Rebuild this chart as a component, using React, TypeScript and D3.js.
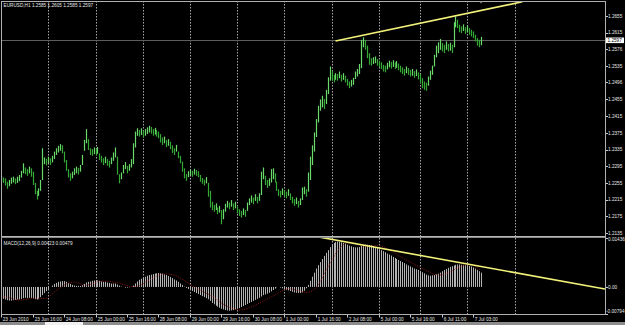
import React from "react";
import * as d3 from "d3";

// ---------- data ----------
const highs = [
  1.2272, 1.2268, 1.2266, 1.2258, 1.2262, 1.2268, 1.227, 1.2266, 1.227, 1.2274,
  1.2284, 1.2302, 1.2292, 1.2288, 1.2294, 1.229, 1.2282, 1.2255, 1.2236, 1.2242,
  1.2262, 1.2338, 1.2316, 1.2313, 1.2318, 1.2314, 1.232, 1.233, 1.2338, 1.2344,
  1.2348, 1.2345, 1.233, 1.231, 1.2288, 1.2278, 1.2282, 1.229, 1.2294, 1.2291,
  1.2298, 1.2322, 1.2358, 1.2384, 1.236, 1.2338, 1.2336, 1.234, 1.2337, 1.2341,
  1.2326, 1.232, 1.2314, 1.2318, 1.2312, 1.2308, 1.2316, 1.2328, 1.234, 1.2318,
  1.2276, 1.228, 1.2298, 1.2305, 1.2296, 1.23, 1.2312, 1.235, 1.2378, 1.2386,
  1.2382, 1.2386, 1.238, 1.2384, 1.2388, 1.2392, 1.2389, 1.2384, 1.2387, 1.2382,
  1.2378, 1.2372, 1.2364, 1.2366, 1.2358, 1.236, 1.2354, 1.2345, 1.2338, 1.2346,
  1.233, 1.232, 1.2306, 1.229, 1.2276, 1.2283, 1.2287, 1.2284, 1.2289, 1.2286,
  1.2283, 1.2274, 1.2267, 1.2263, 1.2269, 1.2255, 1.2236, 1.221, 1.2202, 1.2206,
  1.2196, 1.22, 1.219, 1.2192, 1.2205, 1.2212, 1.2208, 1.2214, 1.2206, 1.221,
  1.2198, 1.2192, 1.2188, 1.2194, 1.219, 1.2208, 1.2218, 1.2225, 1.222, 1.2228,
  1.2222, 1.223, 1.2282, 1.2292, 1.2272, 1.2262, 1.2266, 1.2288, 1.229, 1.2278,
  1.2258, 1.224, 1.2236, 1.2242, 1.2238, 1.2234, 1.224, 1.223, 1.2222, 1.2216,
  1.222, 1.2212, 1.2218, 1.2244, 1.2246, 1.224, 1.228, 1.2318, 1.2345, 1.2376,
  1.2408, 1.244, 1.2455, 1.2464, 1.2456, 1.2478, 1.2508, 1.2534, 1.2524, 1.2514,
  1.2518, 1.2516, 1.2522, 1.2514, 1.2518, 1.2512, 1.2504, 1.2498, 1.2502, 1.2507,
  1.2522, 1.2528, 1.254, 1.2598, 1.2604, 1.2598, 1.2584, 1.2566, 1.2554, 1.2556,
  1.2558, 1.2552, 1.2548, 1.2544, 1.2538, 1.2536, 1.2543, 1.2548, 1.2545, 1.2549,
  1.2544, 1.2547, 1.2541, 1.2536, 1.2532, 1.2528, 1.2534, 1.253, 1.2526, 1.2528,
  1.2523, 1.2527, 1.252, 1.2516, 1.2506, 1.2498, 1.2495, 1.251, 1.2524, 1.2536,
  1.2562, 1.2584, 1.2592, 1.26, 1.259, 1.2586, 1.2594, 1.2588, 1.2591, 1.2586,
  1.264, 1.2654, 1.2646, 1.2634, 1.263, 1.2635, 1.2628, 1.2632, 1.2626, 1.2622,
  1.2618, 1.261, 1.2602, 1.2598, 1.2605,
];
const lows = [
  1.2258, 1.2255, 1.2249, 1.2241, 1.2247, 1.2253, 1.2256, 1.2252, 1.2255, 1.2259,
  1.2268, 1.2278, 1.2276, 1.2272, 1.2278, 1.227, 1.225, 1.2228, 1.2215, 1.2224,
  1.2236, 1.2262, 1.23, 1.2297, 1.2302, 1.2298, 1.2304, 1.2312, 1.2322, 1.2328,
  1.2332, 1.2326, 1.2304, 1.2284, 1.2268, 1.226, 1.2266, 1.2274, 1.2278, 1.2275,
  1.2282, 1.2298, 1.2332, 1.235, 1.2334, 1.2322, 1.232, 1.2324, 1.2321, 1.2325,
  1.231, 1.2304, 1.2298, 1.2302, 1.2296, 1.2292, 1.23, 1.2308, 1.2316, 1.2275,
  1.2254, 1.2264, 1.2278, 1.2288, 1.2278, 1.2284, 1.2292, 1.23, 1.234, 1.2368,
  1.2366, 1.237, 1.2364, 1.2368, 1.2372, 1.2376, 1.2373, 1.2368, 1.2371, 1.2366,
  1.2362, 1.2352, 1.2346, 1.235, 1.2341, 1.2344, 1.2336, 1.2327, 1.2322, 1.233,
  1.2314, 1.2302, 1.2282, 1.2266, 1.226, 1.2269, 1.2273, 1.227, 1.2275, 1.2272,
  1.2269, 1.2258, 1.2253, 1.2249, 1.2254, 1.2222, 1.2196, 1.219, 1.2186, 1.219,
  1.218, 1.2184, 1.2156, 1.2168, 1.2186, 1.2196, 1.2192, 1.2198, 1.219, 1.2194,
  1.2182, 1.2176, 1.2172, 1.2178, 1.2174, 1.2188, 1.2202, 1.2208, 1.2204, 1.2212,
  1.2206, 1.2212, 1.2226, 1.2264, 1.225, 1.2243, 1.2248, 1.2256, 1.2264, 1.2256,
  1.2236, 1.2224, 1.222, 1.2226, 1.2222, 1.2218, 1.2224, 1.2214, 1.2206, 1.22,
  1.2204, 1.2196, 1.2202, 1.2214, 1.2228, 1.2222, 1.2234, 1.2262, 1.2298, 1.233,
  1.2365, 1.24, 1.2428, 1.2436, 1.2432, 1.2444, 1.2468, 1.25, 1.25, 1.2496,
  1.2502, 1.25, 1.2506, 1.2498, 1.2502, 1.2496, 1.2488, 1.2482, 1.2486, 1.249,
  1.2504, 1.251, 1.2516, 1.253, 1.258, 1.2574, 1.2554, 1.2538, 1.2536, 1.254,
  1.2542, 1.2536, 1.2532, 1.2528, 1.2522, 1.252, 1.2527, 1.2532, 1.2529, 1.2533,
  1.2528, 1.2531, 1.2525, 1.252, 1.2516, 1.2512, 1.2518, 1.2514, 1.251, 1.2512,
  1.2507, 1.2511, 1.2503, 1.2494, 1.2482, 1.2478, 1.2476, 1.2488, 1.2502, 1.2514,
  1.2534, 1.2556, 1.2566, 1.2574, 1.257, 1.2566, 1.2574, 1.257, 1.2572, 1.2566,
  1.258, 1.2628, 1.2626, 1.2616, 1.2614, 1.2619, 1.2612, 1.2616, 1.261, 1.2606,
  1.2602, 1.2594, 1.2584, 1.258, 1.2585,
];
const macd = [
  -0.0032, -0.0035, -0.0037, -0.0039, -0.004, -0.004, -0.0039, -0.0038, -0.0037, -0.0037,
  -0.0035, -0.0033, -0.0032, -0.0033, -0.0032, -0.0032, -0.0034, -0.0036, -0.0037, -0.0036,
  -0.003, -0.0024, -0.0018, -0.0012, -0.0006, 0.0, 0.0004, 0.0009, 0.0012, 0.0015,
  0.0016, 0.0017, 0.0017, 0.0015, 0.0012, 0.0009, 0.0006, 0.0004, 0.0003, 0.0003,
  0.0003, 0.0005, 0.0009, 0.0013, 0.0015, 0.0016, 0.0018, 0.0019, 0.002, 0.0019,
  0.0018, 0.0016, 0.0015, 0.0015, 0.0013, 0.0012, 0.001, 0.001, 0.001, 0.0007,
  0.0004, 0.0001, 0.0, -0.0002, -0.0002, -0.0001, 0.0, 0.0004, 0.001, 0.0016,
  0.0021, 0.0024, 0.0027, 0.003, 0.0033, 0.0035, 0.0036, 0.0038, 0.0039, 0.004,
  0.0041, 0.004, 0.0039, 0.0037, 0.0035, 0.0032, 0.0029, 0.0026, 0.0022, 0.0019,
  0.0015, 0.001, 0.0006, 0.0001, -0.0003, -0.0006, -0.0009, -0.0012, -0.0015, -0.0018,
  -0.0021, -0.0024, -0.0027, -0.003, -0.0033, -0.0036, -0.0041, -0.0047, -0.0051, -0.0055,
  -0.0058, -0.0061, -0.0064, -0.0066, -0.0068, -0.0069, -0.007, -0.0069, -0.0068, -0.0066,
  -0.0064, -0.0062, -0.0059, -0.0056, -0.0053, -0.005, -0.0047, -0.0044, -0.0041, -0.0038,
  -0.0035, -0.0032, -0.0028, -0.0024, -0.0022, -0.002, -0.0017, -0.0013, -0.0009, -0.0005,
  -0.0001, 0.0, -0.0002, -0.0004, -0.0006, -0.0008, -0.001, -0.0012, -0.0014, -0.0016,
  -0.0017, -0.0018, -0.0018, -0.0016, -0.0011, -0.0004, 0.0006, 0.0018, 0.003, 0.0042,
  0.0054, 0.0064, 0.0073, 0.0082, 0.0091, 0.01, 0.0108, 0.0117, 0.0123, 0.0129,
  0.0132, 0.0133, 0.0132, 0.0131, 0.0129, 0.0127, 0.0124, 0.0121, 0.0119, 0.0117,
  0.0116, 0.0116, 0.0117, 0.012, 0.0123, 0.0124, 0.0124, 0.0123, 0.0122, 0.012,
  0.0117, 0.0114, 0.0111, 0.0108, 0.0105, 0.0102, 0.0098, 0.0095, 0.0092, 0.0088,
  0.0085, 0.0082, 0.0079, 0.0076, 0.0073, 0.007, 0.0066, 0.0063, 0.006, 0.0057,
  0.0054, 0.0052, 0.005, 0.0047, 0.0043, 0.004, 0.0036, 0.0034, 0.0033, 0.0034,
  0.0035, 0.0037, 0.0039, 0.0042, 0.0046, 0.005, 0.0053, 0.0056, 0.0059, 0.0061,
  0.0063, 0.0065, 0.0066, 0.0066, 0.0065, 0.0065, 0.0064, 0.0063, 0.0062, 0.006,
  0.0057, 0.0054, 0.005, 0.0046, 0.0042,
];
const signal = [
  -0.0026, -0.0028, -0.003, -0.0031, -0.0032, -0.0034, -0.0036, -0.0037, -0.0038, -0.0038,
  -0.0038, -0.0037, -0.0037, -0.0036, -0.0035, -0.0034, -0.0033, -0.0033, -0.0033, -0.0034,
  -0.0034, -0.0034, -0.0034, -0.0032, -0.0029, -0.0025, -0.002, -0.0015, -0.001, -0.0006,
  -0.0002, 0.0002, 0.0006, 0.0009, 0.0011, 0.0013, 0.0014, 0.0014, 0.0013, 0.0011,
  0.0009, 0.0007, 0.0006, 0.0005, 0.0006, 0.0007, 0.0009, 0.0011, 0.0013, 0.0015,
  0.0016, 0.0017, 0.0017, 0.0017, 0.0017, 0.0016, 0.0015, 0.0014, 0.0013, 0.0012,
  0.0011, 0.0009, 0.0007, 0.0005, 0.0004, 0.0002, 0.0001, 0.0001, 0.0001, 0.0002,
  0.0004, 0.0007, 0.001, 0.0014, 0.0017, 0.002, 0.0024, 0.0027, 0.003, 0.0032,
  0.0034, 0.0036, 0.0037, 0.0038, 0.0038, 0.0038, 0.0037, 0.0036, 0.0034, 0.0032,
  0.0029, 0.0026, 0.0022, 0.0019, 0.0015, 0.0011, 0.0007, 0.0003, 0.0, -0.0004,
  -0.0007, -0.001, -0.0013, -0.0016, -0.0019, -0.0022, -0.0025, -0.0028, -0.0031, -0.0035,
  -0.0039, -0.0043, -0.0047, -0.0051, -0.0054, -0.0057, -0.006, -0.0062, -0.0064, -0.0066,
  -0.0067, -0.0067, -0.0067, -0.0066, -0.0065, -0.0063, -0.0061, -0.0058, -0.0056, -0.0053,
  -0.005, -0.0047, -0.0044, -0.0041, -0.0038, -0.0035, -0.0032, -0.0029, -0.0026, -0.0023,
  -0.002, -0.0017, -0.0014, -0.0011, -0.0008, -0.0006, -0.0005, -0.0005, -0.0006, -0.0008,
  -0.001, -0.0011, -0.0013, -0.0014, -0.0015, -0.0016, -0.0016, -0.0014, -0.0011, -0.0007,
  -0.0001, 0.0007, 0.0017, 0.0028, 0.004, 0.0051, 0.0062, 0.0072, 0.0081, 0.009,
  0.0098, 0.0106, 0.0113, 0.0119, 0.0124, 0.0127, 0.0129, 0.013, 0.013, 0.0129,
  0.0127, 0.0125, 0.0123, 0.0121, 0.0119, 0.0118, 0.0118, 0.0119, 0.012, 0.0121,
  0.0122, 0.0122, 0.0121, 0.0119, 0.0117, 0.0114, 0.0111, 0.0108, 0.0105, 0.0102,
  0.0099, 0.0096, 0.0092, 0.0089, 0.0086, 0.0082, 0.0079, 0.0076, 0.0073, 0.007,
  0.0066, 0.0063, 0.006, 0.0057, 0.0054, 0.0051, 0.0048, 0.0045, 0.0042, 0.0039,
  0.0037, 0.0036, 0.0035, 0.0035, 0.0036, 0.0037, 0.0039, 0.0042, 0.0045, 0.0048,
  0.0051, 0.0054, 0.0057, 0.0059, 0.0061, 0.0063, 0.0064, 0.0065, 0.0065, 0.0064,
  0.0062, 0.0059, 0.0056, 0.0052, 0.0048,
];

const priceTicks = [1.2655, 1.2615, 1.2576, 1.2535, 1.2496, 1.2455, 1.2415, 1.2375, 1.2335, 1.2295, 1.2255, 1.2215, 1.2175, 1.2135];
const macdTickValues = [0.01436, 0, -0.00794];
const macdTickLabels = ["0.01436", "0.00", "-0.00794"];
const timeLabels = [
  "23 Jun 2010", "23 Jun 16:00", "24 Jun 08:00", "25 Jun 00:00", "25 Jun 16:00", "28 Jun 08:00",
  "29 Jun 00:00", "29 Jun 16:00", "30 Jun 08:00", "1 Jul 00:00", "1 Jul 16:00", "2 Jul 08:00",
  "5 Jul 00:00", "5 Jul 16:00", "6 Jul 11:00", "7 Jul 03:00",
];
const timeLabelBars = [0, 16, 32, 48, 64, 80, 96, 112, 128, 144, 160, 176, 192, 208, 224, 240];
const dayStartBars = [24, 48, 72, 96, 120, 144, 168, 192, 213, 237, 261];
const priceTrendBars = [170, 265];
const priceTrendValues = [1.2595, 1.2689];
const macdTrendBars = [162, 307];
const macdTrendValues = [0.0146, -0.0006];
const lastPrice = 1.2597;
const lastPriceLabel = "1.2597";
const chartTitle = "EURUSD,H1  1.2585 1.2605 1.2585 1.2597";
const macdTitle = "MACD(12,26,9) 0.00423 0.00479";

export default function App() {
  const W = 625;
  const H = 325;
  const L = 1, R = 605;
  const mainTop = 1, mainBot = 236;
  const subTop = 238, subBot = 314;

  const x = d3.scaleLinear().domain([0, 261]).range([1.1, 514.5]);
  const yP = d3.scaleLinear().domain([1.2655, 1.2135]).range([16, 233]);
  const yM = d3.scaleLinear().domain([-0.00794, 0.01436]).range([subBot, subTop]);

  const font = "'Liberation Sans', Arial, sans-serif";
  const fs = 4.7;
  const txt = "#e6e6e6";
  const gridCol = "#a8a8a8";

  const mids = highs.map((h, i) => (h + lows[i]) / 2);
  const priceTrend = d3.line<number>().x((d, i) => x(priceTrendBars[i])).y((d) => yP(d));
  const macdTrend = d3.line<number>().x((d, i) => x(macdTrendBars[i])).y((d) => yM(d));
  const sigLine = d3.line<number>().x((d, i) => Math.round(x(i)) + 0.5).y((d) => yM(d));

  return (
    <svg
      width={W}
      height={H}
      style={{ position: "fixed", left: 0, top: 0, background: "#000", display: "block" }}
    >
      <defs>
        <clipPath id="clipMain">
          <rect x={L} y={mainTop} width={R - L} height={mainBot - mainTop} />
        </clipPath>
        <clipPath id="clipSub">
          <rect x={L} y={subTop} width={R - L} height={subBot - subTop} />
        </clipPath>
      </defs>
      <rect x={0} y={0} width={W} height={H} fill="#000" />

      {/* grid lines */}
      {dayStartBars.map((b) => {
        const gx = Math.round(x(b)) + 0.5;
        return (
          <g key={b}>
            <line x1={gx} x2={gx} y1={mainTop} y2={mainBot} stroke={gridCol} strokeWidth={1} strokeDasharray="1.5,1.5" />
            <line x1={gx} x2={gx} y1={subTop} y2={subBot} stroke={gridCol} strokeWidth={1} strokeDasharray="1.5,1.5" />
          </g>
        );
      })}

      {/* last price line */}
      <line x1={L} x2={R} y1={Math.round(yP(lastPrice)) + 0.5} y2={Math.round(yP(lastPrice)) + 0.5} stroke="#5e5e5e" strokeWidth={1} />

      {/* candles */}
      <g clipPath="url(#clipMain)">
        {highs.map((h, i) => {
          const up = i === 0 ? true : mids[i] >= mids[i - 1];
          const cx = Math.round(x(i)) + 0.5;
          return (
            <line
              key={i}
              x1={cx}
              x2={cx}
              y1={yP(h)}
              y2={yP(lows[i])}
              stroke={up ? "#6ad86a" : "#34a834"}
              strokeWidth={1.2}
            />
          );
        })}
        <path d={priceTrend(priceTrendValues) || ""} stroke="#f2f27a" strokeWidth={1.6} fill="none" />
      </g>

      {/* MACD */}
      <g clipPath="url(#clipSub)">
        {macd.map((v, i) => {
          const cx = Math.round(x(i)) + 0.5;
          return <line key={i} x1={cx} x2={cx} y1={yM(0)} y2={yM(v)} stroke="#b4b4b4" strokeWidth={1} />;
        })}
        <path d={sigLine(signal) || ""} stroke="#a01818" strokeWidth={1} strokeDasharray="1,1.5" fill="none" />
        <path d={macdTrend(macdTrendValues) || ""} stroke="#f2f27a" strokeWidth={1.6} fill="none" />
      </g>

      {/* frames */}
      <line x1={L + 0.5} x2={L + 0.5} y1={mainTop} y2={subBot} stroke="#b0b0b0" />
      <line x1={L} x2={R} y1={mainTop + 0.5} y2={mainTop + 0.5} stroke="#b0b0b0" />
      <line x1={R + 0.5} x2={R + 0.5} y1={mainTop} y2={subBot + 1} stroke="#b0b0b0" />
      <line x1={L} x2={R} y1={mainBot + 0.5} y2={mainBot + 0.5} stroke="#b8b8b8" />
      <line x1={L} x2={R} y1={subTop - 0.5} y2={subTop - 0.5} stroke="#8a8a8a" />
      <line x1={L} x2={R} y1={subBot + 0.5} y2={subBot + 0.5} stroke="#b0b0b0" />

      {/* shift marker */}
      <path d={`M${x(244) - 2},1 L${x(244) + 2},1 L${x(244)},3.5 Z`} fill="#9a9a9a" />

      {/* titles */}
      <text x={3.5} y={7} fontFamily={font} fontSize={fs} fill={txt}>{chartTitle}</text>
      <text x={3.5} y={244.5} fontFamily={font} fontSize={fs} fill={txt}>{macdTitle}</text>

      {/* price axis */}
      {priceTicks.map((p) => (
        <g key={p}>
          <line x1={R + 1} x2={R + 3} y1={Math.round(yP(p)) + 0.5} y2={Math.round(yP(p)) + 0.5} stroke="#c8c8c8" />
          <text x={608} y={yP(p) + 1.7} fontFamily={font} fontSize={fs} fill={txt}>{p.toFixed(4)}</text>
        </g>
      ))}
      <rect x={606} y={yP(lastPrice) - 2.7} width={18} height={5.6} fill="#ffffff" />
      <text x={607.5} y={yP(lastPrice) + 1.7} fontFamily={font} fontSize={fs} fill="#000">{lastPriceLabel}</text>

      {/* MACD axis */}
      {macdTickValues.map((v, i) => (
        <g key={i}>
          <line x1={R + 1} x2={R + 3} y1={Math.round(yM(v)) + 0.5} y2={Math.round(yM(v)) + 0.5} stroke="#c8c8c8" />
          <text
            x={v < 0 ? 606 : 608}
            y={(i === 0 ? yM(v) + 3 : i === 2 ? yM(v) - 1.3 : yM(v) + 1.7)}
            fontFamily={font}
            fontSize={fs}
            fill={txt}
          >
            {macdTickLabels[i]}
          </text>
        </g>
      ))}

      {/* time axis */}
      {timeLabelBars.map((b, i) => {
        const tx = Math.round(x(b)) + 0.5;
        return (
          <g key={b}>
            <line x1={tx} x2={tx} y1={subBot + 1} y2={subBot + 3.5} stroke="#c8c8c8" />
            <text x={tx + 1.2} y={320.5} fontFamily={font} fontSize={fs} fill={txt}>{timeLabels[i]}</text>
          </g>
        );
      })}

      {/* bottom tab strip */}
      <rect x={0} y={322} width={W} height={3} fill="#8c8c8c" />
      <rect x={45} y={322} width={38} height={3} fill="#f0f0f0" />
    </svg>
  );
}
